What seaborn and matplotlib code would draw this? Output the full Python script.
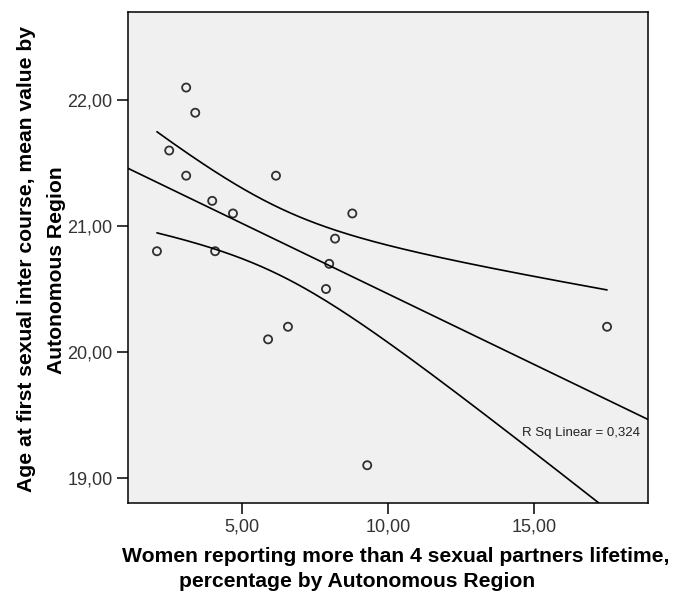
import numpy as np
import pandas as pd
import matplotlib
matplotlib.use("Agg")
import matplotlib.pyplot as plt
import seaborn as sns
from matplotlib.ticker import FuncFormatter, FixedLocator

# Data
pct_partners = [3.10, 3.41, 2.52, 3.10, 3.99, 4.70, 2.10, 4.09, 6.17, 8.78,
                8.19, 7.99, 7.88, 6.58, 5.90, 9.29, 17.49]
age_first = [22.10, 21.90, 21.60, 21.40, 21.20, 21.10, 20.80, 20.80, 21.40, 21.10,
             20.90, 20.70, 20.50, 20.20, 20.10, 19.10, 20.20]
x_ticks = [5, 10, 15]
y_ticks = [19, 20, 21, 22]
r2_label = "R Sq Linear = 0,324"
x_label_lines = ["Women reporting more than 4 sexual partners lifetime,",
                 "percentage by Autonomous Region"]
y_label_lines = ["Age at first sexual inter course, mean value by",
                 "Autonomous Region"]

df = pd.DataFrame({"x": pct_partners, "y": age_first})

sns.set_style("white")
plt.rcParams["font.family"] = ["Liberation Sans", "DejaVu Sans"]

W, H = 675, 592
fig = plt.figure(figsize=(W / 100, H / 100), dpi=100)
ax = fig.add_axes([0.1896, 0.1503, 0.7704, 0.8294])
ax.set_facecolor("#f0f0f0")
ax.set_xlim(1.11, 18.89)
ax.set_ylim(18.80, 22.70)

sns.regplot(data=df, x="x", y="y", ax=ax, ci=None, truncate=False,
            scatter_kws=dict(s=34, facecolors="none", edgecolors="black", linewidths=1.3),
            line_kws=dict(color="black", lw=1.2))
ax.set_xlabel("")
ax.set_ylabel("")

# confidence interval for the mean (analytical)
x = np.asarray(pct_partners)
y = np.asarray(age_first)
n = len(x)
b1, b0 = np.polyfit(x, y, 1)
resid = y - (b0 + b1 * x)
s = np.sqrt(np.sum(resid ** 2) / (n - 2))
t = 1.753
xs = np.linspace(x.min(), x.max(), 200)
se = s * np.sqrt(1 / n + (xs - x.mean()) ** 2 / np.sum((x - x.mean()) ** 2))
yhat = b0 + b1 * xs
ax.plot(xs, yhat + t * se, color="black", lw=1.2)
ax.plot(xs, yhat - t * se, color="black", lw=1.2)

ax.text(0.985, 0.143, r2_label, transform=ax.transAxes, ha="right", va="center",
        fontsize=9.5, color="#222222")

ax.xaxis.set_major_locator(FixedLocator(x_ticks))
ax.yaxis.set_major_locator(FixedLocator(y_ticks))
fmt = FuncFormatter(lambda v, p: f"{v:.2f}".replace(".", ","))
ax.xaxis.set_major_formatter(fmt)
ax.yaxis.set_major_formatter(fmt)
ax.tick_params(direction="out", length=8, width=1.1, color="black",
               labelsize=13, labelcolor="#333333", bottom=True, left=True, pad=3)
for sp in ax.spines.values():
    sp.set_visible(True)
    sp.set_color("black")
    sp.set_linewidth(1.1)

lab_kw = dict(fontsize=15.2, fontweight="bold", color="black")
# x label lines (pixel positions from top-left)
fig.text(396 / W, 1 - 562 / H, x_label_lines[0], ha="center", va="baseline", **lab_kw)
fig.text(357 / W, 1 - 587 / H, x_label_lines[1], ha="center", va="baseline", **lab_kw)
# y label lines
fig.text(32 / W, 1 - 259 / H, y_label_lines[0], ha="center", va="baseline",
         rotation=90, rotation_mode="anchor", **lab_kw)
fig.text(62 / W, 1 - 270 / H, y_label_lines[1], ha="center", va="baseline",
         rotation=90, rotation_mode="anchor", **lab_kw)

fig.savefig("out.png", dpi=100, facecolor="white")
